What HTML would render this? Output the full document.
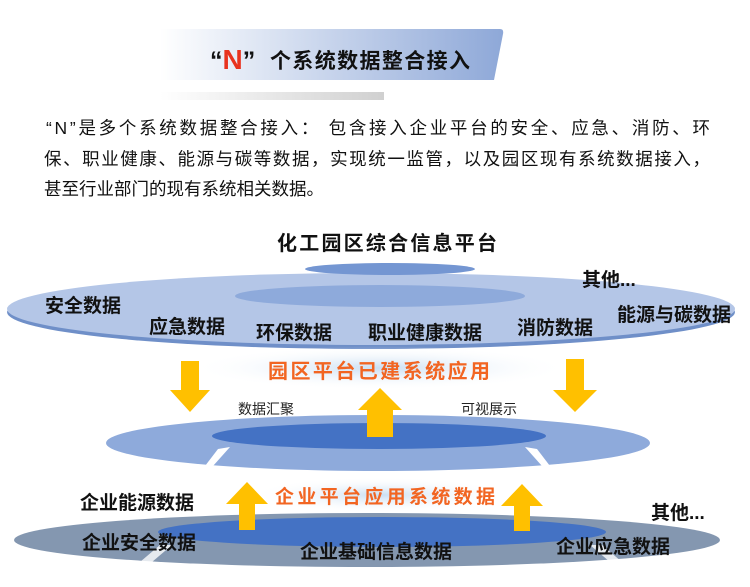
<!DOCTYPE html>
<html><head><meta charset="utf-8"><style>
html,body{margin:0;padding:0;background:#fff;width:750px;height:587px;overflow:hidden}
svg{display:block}
text{font-family:"Liberation Sans","Noto Sans CJK SC",sans-serif}
.b{font-weight:bold;fill:#111;font-size:19px}
</style></head><body>
<svg width="750" height="587" viewBox="0 0 750 587" xmlns="http://www.w3.org/2000/svg">
<defs>
<linearGradient id="ban" x1="0" x2="1"><stop offset="0" stop-color="#fff"/><stop offset="1" stop-color="#8ea8d8"/></linearGradient>
<linearGradient id="gb" x1="0" x2="1"><stop offset="0" stop-color="#fff"/><stop offset="1" stop-color="#d0d0d0"/></linearGradient>
<radialGradient id="glow"><stop offset="0" stop-color="#c9def2"/><stop offset="1" stop-color="#fff" stop-opacity="0"/></radialGradient>
</defs>
<path d="M160 29 L500 29 Q504 29 503 34 L494 80 L160 80 Z" fill="url(#ban)"/>
<rect x="160" y="92" width="224" height="8" fill="url(#gb)"/>
<text x="210" y="69" font-size="25" font-weight="bold" fill="#111">“<tspan fill="#e8321e" font-size="28">N</tspan>”</text>
<text x="270" y="68" font-size="21" font-weight="bold" fill="#111" textLength="200">个系统数据整合接入</text>
<text x="46" y="134" font-size="17.5" fill="#111" textLength="664">“N”是多个系统数据整合接入： 包含接入企业平台的安全、应急、消防、环</text>
<text x="44" y="165" font-size="17.5" fill="#111" textLength="666">保、职业健康、能源与碳等数据，实现统一监管，以及园区现有系统数据接入，</text>
<text x="44" y="195" font-size="17.5" fill="#111" textLength="280">甚至行业部门的现有系统相关数据。</text>
<text x="277" y="250" font-size="20" font-weight="bold" fill="#111" textLength="220">化工园区综合信息平台</text>
<ellipse cx="371" cy="312" rx="364" ry="37" fill="#6f8fc8"/>
<ellipse cx="371" cy="309" rx="364" ry="36" fill="#b4c6e7"/>
<ellipse cx="380" cy="296" rx="145" ry="11" fill="#8eaadb"/>
<ellipse cx="390" cy="269" rx="85" ry="6" fill="#7496d2"/>
<text class="b" x="45" y="312">安全数据</text>
<text class="b" x="149" y="333">应急数据</text>
<text class="b" x="256" y="339">环保数据</text>
<text class="b" x="368" y="339">职业健康数据</text>
<text class="b" x="517" y="334">消防数据</text>
<text class="b" x="617" y="321">能源与碳数据</text>
<text class="b" x="582" y="286">其他...</text>
<ellipse cx="380" cy="368" rx="190" ry="22" fill="url(#glow)"/>
<text x="268" y="378" font-size="20" font-weight="bold" fill="#f26522" textLength="222">园区平台已建系统应用</text>
<polygon points="181,361 199,361 199,390 210,390 190,412 170,390 181,390" fill="#ffc000"/>
<polygon points="566,359 584,359 584,390 597,390 575,412 553,390 566,390" fill="#ffc000"/>
<text x="238" y="414" font-size="14" fill="#222">数据汇聚</text>
<text x="461" y="414" font-size="14" fill="#222">可视展示</text>
<ellipse cx="378" cy="443" rx="272" ry="28" fill="#8eaadb"/>
<ellipse cx="379" cy="436" rx="167" ry="13" fill="#4472c4"/>
<polygon points="218,449 230,447 213,466 205,466" fill="#fff"/>
<polygon points="525,447 537,449 550,466 542,466" fill="#fff"/>
<polygon points="380,388 402,410 393,410 393,437 367,437 367,410 358,410" fill="#ffc000"/>
<ellipse cx="367" cy="540" rx="353" ry="27" fill="#8497b0"/>
<ellipse cx="382" cy="532" rx="224" ry="15" fill="#4472c4"/>
<polygon points="160,545 172,545 152,562 140,562" fill="#fff" opacity="0.8"/>
<polygon points="590,545 602,545 622,562 610,562" fill="#fff" opacity="0.8"/>
<ellipse cx="380" cy="495" rx="130" ry="18" fill="url(#glow)"/>
<polygon points="247,482 268,504 255,504 255,530 239,530 239,504 226,504" fill="#ffc000"/>
<polygon points="522,484 543,506 530,506 530,531 514,531 514,506 501,506" fill="#ffc000"/>
<text x="275" y="503" font-size="19" font-weight="bold" fill="#f26522" textLength="220">企业平台应用系统数据</text>
<text class="b" x="80" y="509">企业能源数据</text>
<text class="b" x="82" y="549">企业安全数据</text>
<text class="b" x="300" y="558">企业基础信息数据</text>
<text class="b" x="556" y="553">企业应急数据</text>
<text class="b" x="651" y="519">其他...</text>
</svg>
</body></html>
